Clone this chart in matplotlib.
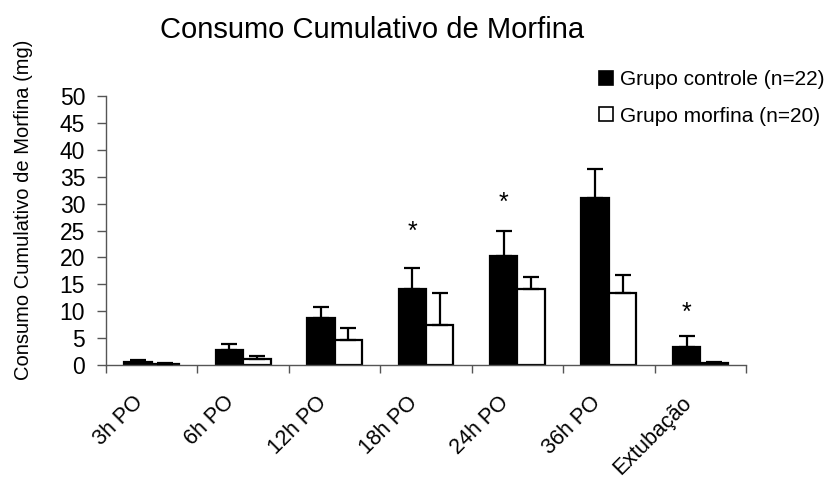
import matplotlib
matplotlib.use("Agg")
import matplotlib.pyplot as plt
import matplotlib.transforms as mtransforms
from matplotlib.patches import Patch
import numpy as np

plt.rcParams['font.family'] = ['Liberation Sans', 'DejaVu Sans']

categories = ['3h PO', '6h PO', '12h PO', '18h PO', '24h PO', '36h PO', 'Extubação']
controle = [0.55, 2.7, 8.7, 14.2, 20.2, 31.0, 3.4]
controle_err = [0.35, 1.15, 2.1, 3.8, 4.8, 5.5, 1.9]
morfina = [0.2, 1.2, 4.6, 7.5, 14.2, 13.4, 0.3]
morfina_err = [0.1, 0.4, 2.2, 5.9, 2.2, 3.3, 0.3]
star_idx = [3, 4, 6]
star_y = [24.7, 30.1, 9.6]
yticks = list(range(0, 51, 5))

W, H = 836, 484
fig = plt.figure(figsize=(W / 100, H / 100), dpi=100)
ax = fig.add_axes([106 / W, 1 - 365 / H, (746 - 106) / W, (365 - 96) / H])

x = np.arange(len(categories))
bw = 0.30
lw = 1.6
ax.bar(x - bw / 2, controle, bw, color='black', edgecolor='black', linewidth=lw, zorder=2)
ax.bar(x + bw / 2, morfina, bw, color='white', edgecolor='black', linewidth=lw, zorder=2)
ax.errorbar(x - bw / 2, controle, yerr=[np.zeros(len(x)), controle_err], fmt='none',
            ecolor='black', elinewidth=lw, capsize=5.5, capthick=lw, zorder=3)
ax.errorbar(x + bw / 2, morfina, yerr=[np.zeros(len(x)), morfina_err], fmt='none',
            ecolor='black', elinewidth=lw, capsize=5.5, capthick=lw, zorder=3)

for i, sy in zip(star_idx, star_y):
    ax.text(x[i] - bw / 2, sy, '*', ha='center', va='center', fontsize=18)

ax.set_xlim(-0.5, len(categories) - 0.5)
ax.set_ylim(0, 50)
ax.set_yticks(yticks)
ax.set_yticklabels([str(v) for v in yticks], fontsize=16.5)
ax.set_xticks(np.arange(len(categories) + 1) - 0.5)
ax.set_xticklabels([])
ax.set_xticks(x, minor=True)
ax.set_xticklabels(categories, minor=True, rotation=45, ha='right', va='top',
                   rotation_mode='anchor', fontsize=15.5)
ax.tick_params(axis='x', which='minor', length=0, pad=0)
ax.tick_params(axis='x', which='major', direction='out', length=6, width=1, color='#555555')
ax.tick_params(axis='y', direction='out', length=6.5, width=1, color='#555555', pad=8.5)
offset = mtransforms.ScaledTranslation(-19 / 100, -27 / 100, fig.dpi_scale_trans)
for lab in ax.get_xticklabels(minor=True):
    lab.set_transform(lab.get_transform() + offset)

for s in ['top', 'right']:
    ax.spines[s].set_visible(False)
for s in ['left', 'bottom']:
    ax.spines[s].set_color('#555555')
    ax.spines[s].set_linewidth(1)

fig.text(372 / W, 1 - 38 / H, 'Consumo Cumulativo de Morfina', ha='center', va='baseline', fontsize=21)
fig.text(24 / W, 1 - 210 / H, 'Consumo Cumulativo de Morfina (mg)', rotation=90,
         ha='center', va='center', fontsize=14.5)

handles = [Patch(facecolor='black', edgecolor='black', linewidth=1.2),
           Patch(facecolor='white', edgecolor='black', linewidth=1.2)]
fig.legend(handles, ['Grupo controle (n=22)', 'Grupo morfina (n=20)'],
           loc='upper left', bbox_to_anchor=(599 / W, 1 - 70 / H), frameon=False,
           fontsize=15, handlelength=0.65, handleheight=0.65, handletextpad=0.35,
           labelspacing=0.85, borderpad=0, borderaxespad=0)

fig.savefig('out.png', dpi=100)
